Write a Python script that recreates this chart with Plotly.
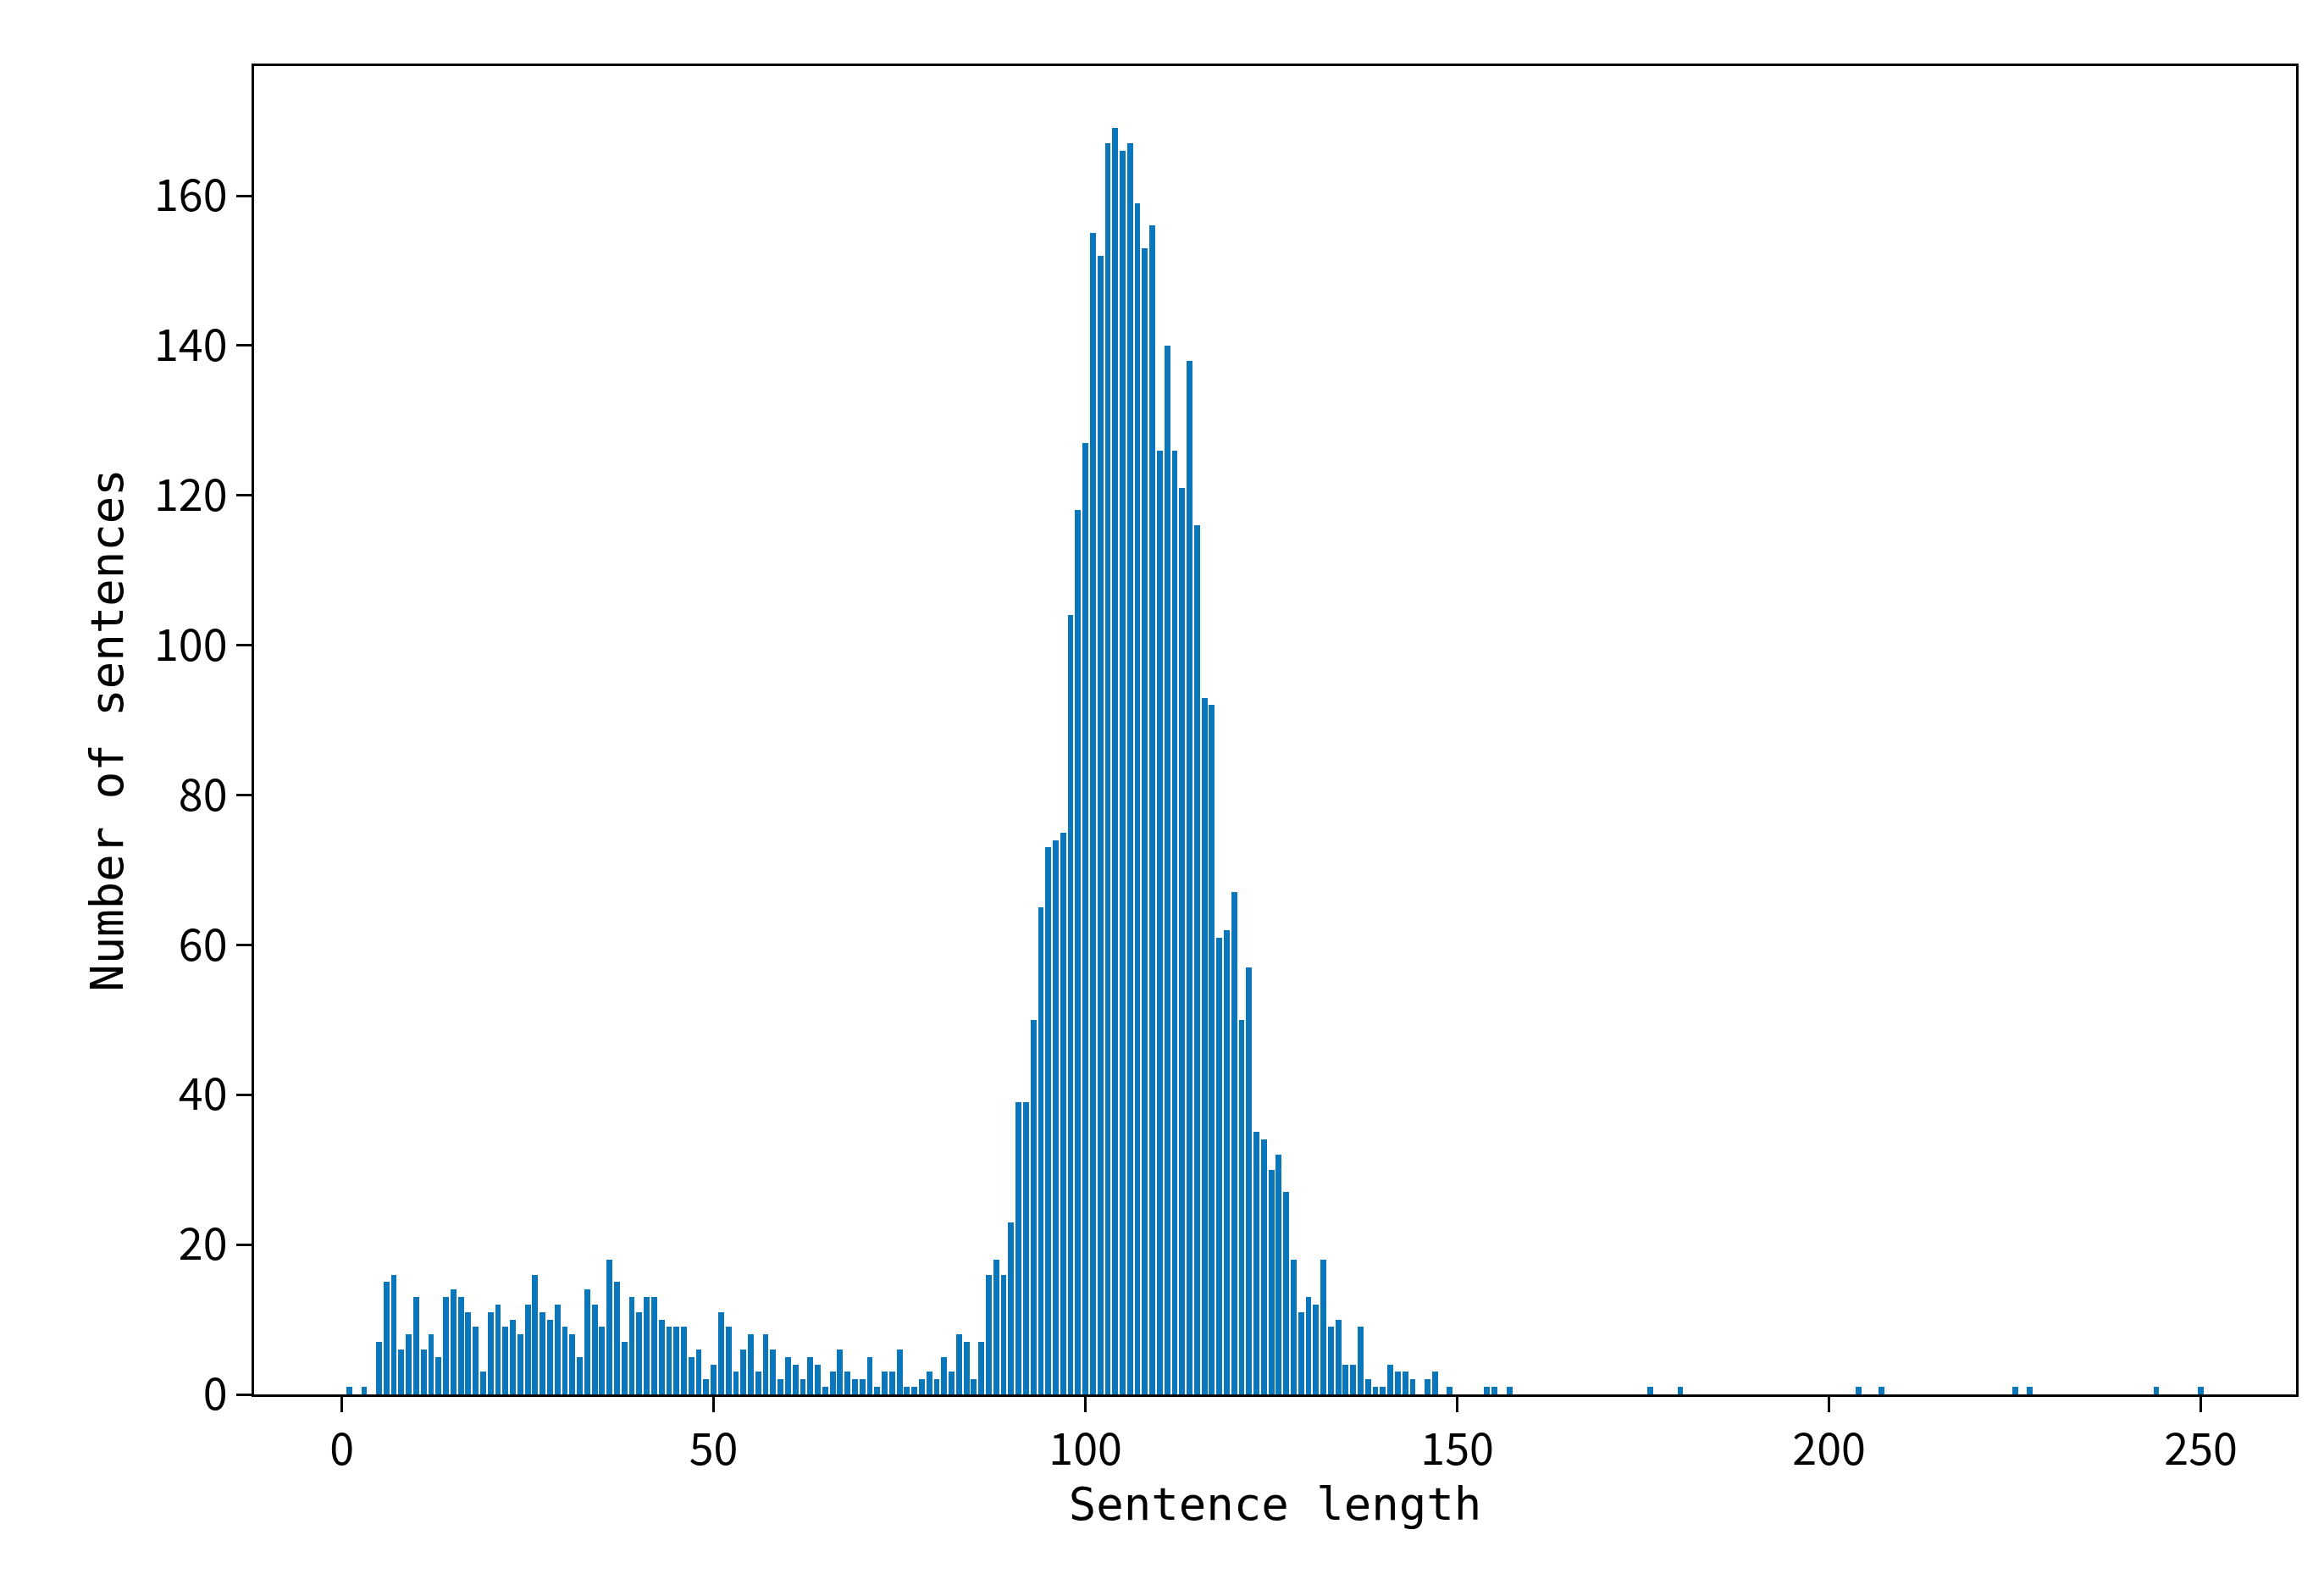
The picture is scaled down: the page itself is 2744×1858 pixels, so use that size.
import plotly.graph_objects as go

lengths = list(range(0, 150))
counts = [0,1,0,1,0,7,15,16,6,8,13,6,8,5,13,14,13,11,9,3,
          11,12,9,10,8,12,16,11,10,12,9,8,5,14,12,9,18,15,7,13,
          11,13,13,10,9,9,9,5,6,2,4,11,9,3,6,8,3,8,6,2,
          5,4,2,5,4,1,3,6,3,2,2,5,1,3,3,6,1,1,2,3,
          2,5,3,8,7,2,7,16,18,16,23,39,39,50,65,73,74,75,104,118,
          127,155,152,167,169,166,167,159,153,156,126,140,126,121,138,116,93,92,61,62,
          67,50,57,35,34,30,32,27,18,11,13,12,18,9,10,4,4,9,2,1,
          1,4,3,3,2,0,2,3,0,1]
sparse_lengths = [154,155,157,176,180,204,207,225,227,244,250]
sparse_counts = [1,1,1,1,1,1,1,1,1,1,1]

x = lengths + sparse_lengths
y = counts + sparse_counts

fig = go.Figure(go.Bar(x=x, y=y, width=0.78, marker=dict(color="#0a77bd", line=dict(width=0))))
axis_common = dict(showgrid=False, zeroline=False, showline=True, linecolor="black", linewidth=3,
                   mirror=True, ticks="outside", ticklen=18, tickwidth=3, tickcolor="black",
                   tickfont=dict(family="Noto Sans CJK SC", size=52, color="black"))
fig.update_xaxes(range=[-11.8, 262.8], tickvals=[0,50,100,150,200,250],
                 title=dict(text="Sentence length", font=dict(family="DejaVu Sans Mono", size=54, color="black"), standoff=8),
                 **axis_common)
fig.update_yaxes(range=[0, 177.3], tickvals=[0,20,40,60,80,100,120,140,160],
                 title=dict(text="Number of sentences", font=dict(family="DejaVu Sans Mono", size=54, color="black"), standoff=20),
                 **axis_common)
fig.update_layout(width=2744, height=1858, plot_bgcolor="white", paper_bgcolor="white",
                  margin=dict(l=292, r=41, t=70, b=220), bargap=0, showlegend=False)
fig.write_html("out.html")
